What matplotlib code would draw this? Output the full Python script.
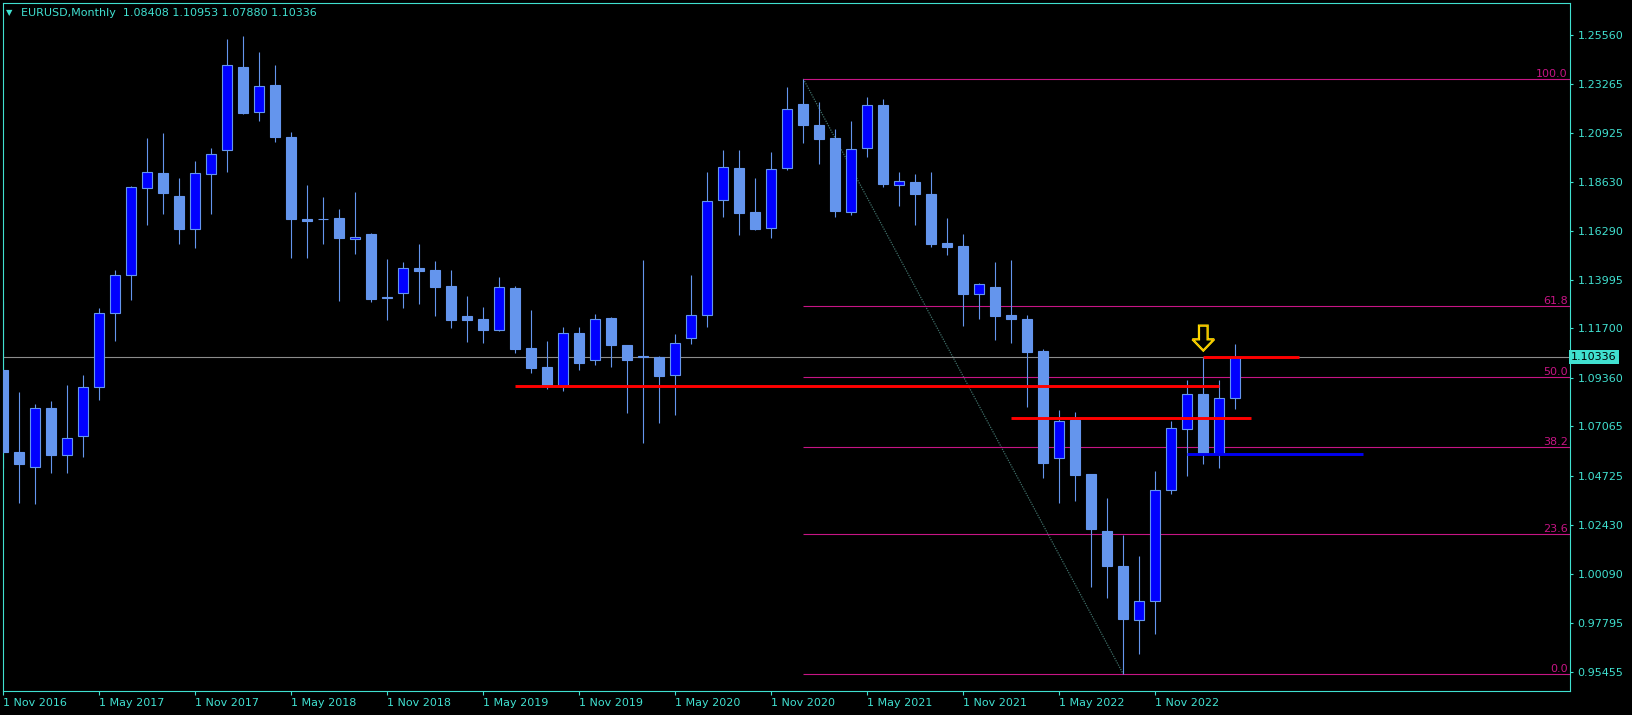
import matplotlib
matplotlib.use('Agg')
import matplotlib.pyplot as plt
from matplotlib.patches import Polygon

# 月线数据 EURUSD, 2016-11 .. 2023-04
opens = [1.0973, 1.0587, 1.0513, 1.0794, 1.0570, 1.0660, 1.0892, 1.1241, 1.1421, 1.1835,
         1.1903, 1.1796, 1.1641, 1.1898, 1.2012, 1.2405, 1.2191, 1.2320, 1.2074, 1.1687,
         1.1688, 1.1692, 1.1591, 1.1616, 1.1316, 1.1339, 1.1454, 1.1446, 1.1370, 1.1229,
         1.1213, 1.1161, 1.1361, 1.1077, 1.0987, 1.0897, 1.1148, 1.1019, 1.1219, 1.1091,
         1.1040, 1.1033, 1.0948, 1.1123, 1.1233, 1.1778, 1.1928, 1.1720, 1.1643, 1.1926,
         1.2230, 1.2131, 1.2070, 1.1721, 1.2024, 1.2226, 1.1849, 1.1862, 1.1805, 1.1574,
         1.1559, 1.1334, 1.1365, 1.1233, 1.1214, 1.1064, 1.0555, 1.0735, 1.0483, 1.0212,
         1.0047, 0.9791, 0.9880, 1.0405, 1.0693, 1.0858, 1.0575, 1.08408]
highs = [1.1298, 1.0869, 1.0813, 1.0827, 1.0902, 1.0950, 1.1266, 1.1446, 1.1843, 1.2070,
         1.2093, 1.1881, 1.1961, 1.2022, 1.2538, 1.2552, 1.2476, 1.2415, 1.2097, 1.1848,
         1.1791, 1.1734, 1.1815, 1.1622, 1.1499, 1.1485, 1.1570, 1.1488, 1.1446, 1.1323,
         1.1272, 1.1412, 1.1370, 1.1256, 1.1112, 1.1176, 1.1176, 1.1238, 1.1224, 1.1093,
         1.1494, 1.1039, 1.1144, 1.1422, 1.1909, 1.2011, 1.2011, 1.1882, 1.2004, 1.2311,
         1.2349, 1.2240, 1.2113, 1.2150, 1.2263, 1.2254, 1.1909, 1.1900, 1.1909, 1.1692,
         1.1616, 1.1383, 1.1484, 1.1493, 1.1233, 1.1071, 1.0785, 1.0775, 1.0484, 1.0367,
         1.0194, 1.0094, 1.0495, 1.0734, 1.0926, 1.1033, 1.0926, 1.10953]
lows = [1.0510, 1.0347, 1.0339, 1.0488, 1.0488, 1.0564, 1.0833, 1.1112, 1.1304, 1.1659,
        1.1712, 1.1570, 1.1551, 1.1712, 1.1910, 1.2185, 1.2151, 1.2052, 1.1504, 1.1504,
        1.1570, 1.1301, 1.1523, 1.1296, 1.1211, 1.1268, 1.1287, 1.1230, 1.1173, 1.1107,
        1.1102, 1.1156, 1.1055, 1.0961, 1.0882, 1.0875, 1.0975, 1.0998, 1.0989, 1.0772,
        1.0630, 1.0725, 1.0762, 1.1098, 1.1178, 1.1696, 1.1612, 1.1636, 1.1599, 1.1920,
        1.2047, 1.1948, 1.1698, 1.1707, 1.1981, 1.1840, 1.1750, 1.1660, 1.1556, 1.1518,
        1.1183, 1.1216, 1.1116, 1.1102, 1.0800, 1.0464, 1.0346, 1.0356, 0.9949, 0.9897,
        0.9536, 0.9632, 0.9727, 1.0389, 1.0474, 1.0530, 1.0512, 1.07880]
closes = [1.0585, 1.0530, 1.0794, 1.0573, 1.0650, 1.0892, 1.1241, 1.1421, 1.1837, 1.1908,
          1.1811, 1.1641, 1.1903, 1.1993, 1.2413, 1.2188, 1.2314, 1.2074, 1.1687, 1.1679,
          1.1686, 1.1599, 1.1602, 1.1311, 1.1314, 1.1454, 1.1443, 1.1367, 1.1211, 1.1211,
          1.1164, 1.1364, 1.1074, 1.0984, 1.0902, 1.1147, 1.1008, 1.1213, 1.1093, 1.1022,
          1.1037, 1.0946, 1.1100, 1.1232, 1.1772, 1.1934, 1.1717, 1.1641, 1.1922, 1.2205,
          1.2133, 1.2066, 1.1726, 1.2016, 1.2224, 1.1854, 1.1865, 1.1806, 1.1570, 1.1556,
          1.1331, 1.1378, 1.1230, 1.1216, 1.1060, 1.0536, 1.0731, 1.0479, 1.0223, 1.0049,
          0.9798, 0.9880, 1.0405, 1.0698, 1.0858, 1.0582, 1.0840, 1.10336]

# x轴标签 (每6根K线一个)
tick_labels = ['1 Nov 2016', '1 May 2017', '1 Nov 2017', '1 May 2018', '1 Nov 2018',
               '1 May 2019', '1 Nov 2019', '1 May 2020', '1 Nov 2020', '1 May 2021',
               '1 Nov 2021', '1 May 2022', '1 Nov 2022']
price_ticks = [1.25560, 1.23265, 1.20925, 1.18630, 1.16290, 1.13995, 1.11700,
               1.09360, 1.07065, 1.04725, 1.02430, 1.00090, 0.97795, 0.95455]

# 斐波那契: 起点K线(高点) -> 终点K线(低点)
fib_start, fib_end = 50, 70
fib_levels = [0.0, 23.6, 38.2, 50.0, 61.8, 100.0]

# 手画的水平线 (起始K线, 结束K线, 价格)
red_lines = [(32, 76, 1.0899), (63, 78, 1.0745), (75, 81, 1.1033)]
blue_lines = [(74, 85, 1.0578)]
arrow_bar, arrow_top, arrow_tip = 75, 1.1183, 1.1065

cyan = '#40E0D0'
light = '#6495ED'
plt.rcParams['font.family'] = ['DejaVu Sans']

fig = plt.figure(figsize=(16.33, 7.15), dpi=100, facecolor='black')
W, H = 1633.0, 715.0
ax = fig.add_axes([2.7 / W, 1 - 690.7 / H, (1570 - 2.7) / W, (690.7 - 2.7) / H])
ax.set_facecolor('black')

x = list(range(len(opens)))

# 影线
ax.vlines(x, lows, highs, color=light, linewidth=0.8, zorder=2)

# 实体
for i in x:
    o, c = opens[i], closes[i]
    up = c > o
    ax.bar(i, c - o, bottom=o, width=0.64, color='#0000FF' if up else light,
           edgecolor=light, linewidth=0.8, zorder=3)

ax.set_xlim(-0.04, 97.92)
ax.set_ylim(0.94576, 1.27091)

# 斐波那契回撤
fib_hi = highs[fib_start]
fib_lo = lows[fib_end]
ax.plot([fib_start, fib_end], [fib_hi, fib_lo], linestyle=(0, (1, 1)), color='#3f6f69',
        linewidth=0.9, zorder=1)
ytr = ax.get_yaxis_transform()
for lv in fib_levels:
    p = fib_lo + (fib_hi - fib_lo) * lv / 100.0
    ax.hlines(p, fib_start, 97.92, color='#C71585', linewidth=0.8, zorder=1)
    ax.text(0.9985, p, '%.1f' % lv, transform=ytr, ha='right', va='bottom',
            color='#C71585', fontsize=8, zorder=4)

# 当前价格线
ax.axhline(closes[-1], color='#8c8c8c', linewidth=0.8, zorder=1)

for x0, x1, p in red_lines:
    ax.hlines(p, x0, x1, color='#FF0000', linewidth=2.1, zorder=5)
for x0, x1, p in blue_lines:
    ax.hlines(p, x0, x1, color='#0000F0', linewidth=2.1, zorder=5)

# 黄色箭头
sw, hw = 0.27, 0.68
head = arrow_tip + (arrow_top - arrow_tip) * 0.45
pts = [(arrow_bar - sw, arrow_top), (arrow_bar + sw, arrow_top), (arrow_bar + sw, head),
       (arrow_bar + hw, head), (arrow_bar, arrow_tip), (arrow_bar - hw, head),
       (arrow_bar - sw, head)]
ax.add_patch(Polygon(pts, closed=True, facecolor='black', edgecolor='#FFFF00', linewidth=1.6, zorder=6))
ax.add_patch(Polygon(pts, closed=True, facecolor='none', edgecolor='#FF8C00', linewidth=0.5, zorder=7))

# 坐标轴
for s in ax.spines.values():
    s.set_color(cyan)
    s.set_linewidth(0.8)
ax.yaxis.tick_right()
ax.set_yticks(price_ticks)
ax.set_yticklabels(['%.5f' % v for v in price_ticks])
ax.set_xticks(list(range(0, 6 * len(tick_labels), 6)))
ax.set_xticklabels(tick_labels)
for lbl in ax.get_xticklabels():
    lbl.set_ha('left')
ax.tick_params(axis='y', colors=cyan, labelsize=8, length=2.5, width=0.8, pad=3, direction='out')
ax.tick_params(axis='x', colors=cyan, labelsize=8, length=3, width=0.8, pad=2, direction='out')

# 价格标签
ax.text(1.0008, closes[-1], '%.5f' % closes[-1], transform=ytr, ha='left', va='center',
        fontsize=8, color='black', zorder=10, clip_on=False,
        bbox=dict(boxstyle='square,pad=0.2', facecolor=cyan, edgecolor='none'))

# 标题
fig.text(6 / W, 1 - 12.7 / H, '\u25bc', color=cyan, fontsize=6, va='center', ha='left')
fig.text(20.7 / W, 1 - 12.7 / H,
         'EURUSD,Monthly  %.5f %.5f %.5f %.5f' % (opens[-1], highs[-1], lows[-1], closes[-1]),
         color=cyan, fontsize=8, va='center', ha='left')

fig.savefig('out.png', dpi=100, facecolor='black')
